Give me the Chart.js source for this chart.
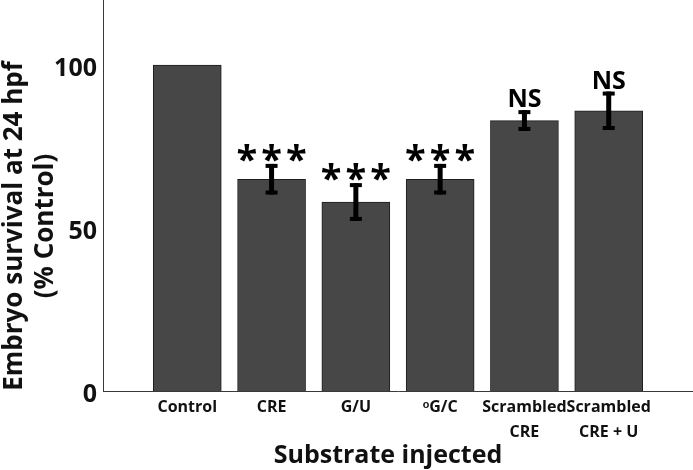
<!DOCTYPE html>
<html>
<head>
<meta charset="utf-8">
<script src="https://cdn.jsdelivr.net/npm/chart.js@4"></script>
<style>
  body { margin:0; background:#fff; }
</style>
</head>
<body>
<canvas id="survivalChart" width="693" height="470"></canvas>
<script>
// values
const substrates = ['Control', 'CRE', 'G/U', 'ᵒG/C', ['Scrambled', 'CRE'], ['Scrambled', 'CRE + U']];
const survival = [100, 65, 58, 65, 83, 86];
const errors = [0, 4.7, 5.8, 4.7, 3.2, 5.9];
const marks = ['', '***', '***', '***', 'NS', 'NS'];
const yTicks = [0, 50, 100];
const yTitle = ['Embryo survival at 24 hpf', '(% Control)'];
const xTitle = 'Substrate injected';

const FONT = "'Open Sans', sans-serif";

// empty slot at each end so the bars sit where the figure has them
const labels = ['', ...substrates, ''];
const values = [null, ...survival, null];

// error bars, significance marks and axis titles
const extras = {
  id: 'extras',
  afterDatasetsDraw(chart) {
    const { ctx, scales: { y } } = chart;
    const bars = chart.getDatasetMeta(0).data;
    ctx.save();
    ctx.fillStyle = '#000';
    survival.forEach((v, i) => {
      const bar = bars[i + 1];
      const top = y.getPixelForValue(v + errors[i]);
      const bot = y.getPixelForValue(v - errors[i]);
      if (errors[i]) {
        ctx.fillRect(bar.x - 2.5, top, 5, bot - top);
        ctx.fillRect(bar.x - 6, top, 12, 4);
        ctx.fillRect(bar.x - 6, bot - 4, 12, 4);
      }
      if (marks[i]) {
        const stars = marks[i] === '***';
        const gap = stars ? 4 : 0;
        ctx.font = `bold ${stars ? 38 : 25}px ${FONT}`;
        ctx.letterSpacing = gap + 'px';
        ctx.textAlign = 'center';
        ctx.textBaseline = 'alphabetic';
        const m = ctx.measureText(marks[i]);
        ctx.fillText(marks[i], bar.x + gap / 2, top - (stars ? 2 : 3) - m.actualBoundingBoxDescent);
      }
    });
    ctx.restore();
  },
  afterDraw(chart) {
    const { ctx, chartArea } = chart;
    ctx.save();
    ctx.fillStyle = '#111';
    ctx.textAlign = 'center';
    ctx.textBaseline = 'alphabetic';
    ctx.font = `bold 25px ${FONT}`;
    ctx.fillText(xTitle, (chartArea.left + chartArea.right) / 2 - 10, 463);
    ctx.font = `bold 26px ${FONT}`;
    ctx.translate(0, 226);
    ctx.rotate(-Math.PI / 2);
    ctx.fillText(yTitle[0], 0, 22);
    ctx.fillText(yTitle[1], 0, 53);
    ctx.restore();
  }
};

new Chart(document.getElementById('survivalChart'), {
  type: 'bar',
  data: {
    labels,
    datasets: [{
      data: values,
      backgroundColor: '#474747',
      borderColor: '#1e1e1e',
      borderWidth: 1,
      barThickness: 68
    }]
  },
  options: {
    responsive: false,
    animation: false,
    layout: { padding: 0 },
    plugins: { legend: { display: false }, tooltip: { enabled: false } },
    scales: {
      x: {
        offset: false,
        grid: { display: false, drawTicks: false },
        border: { color: '#3a3a3a' },
        ticks: {
          autoSkip: false, maxRotation: 0, padding: 4, color: '#111',
          font: { family: FONT, weight: 'bold', size: 16, lineHeight: 1.55 }
        },
        afterFit: s => { s.height = 79; s.paddingLeft = 0; s.paddingRight = 0; }
      },
      y: {
        min: 0, max: 120,
        grid: { display: false, drawTicks: false },
        border: { color: '#3a3a3a' },
        afterBuildTicks: s => { s.ticks = yTicks.map(v => ({ value: v })); },
        ticks: {
          padding: 6, labelOffset: 4, color: '#111',
          font: { family: FONT, weight: 'bold', size: 25 }
        },
        afterFit: s => { s.width = 103; s.paddingTop = 0; s.paddingBottom = 0; }
      }
    }
  },
  plugins: [extras]
});
</script>
</body>
</html>
